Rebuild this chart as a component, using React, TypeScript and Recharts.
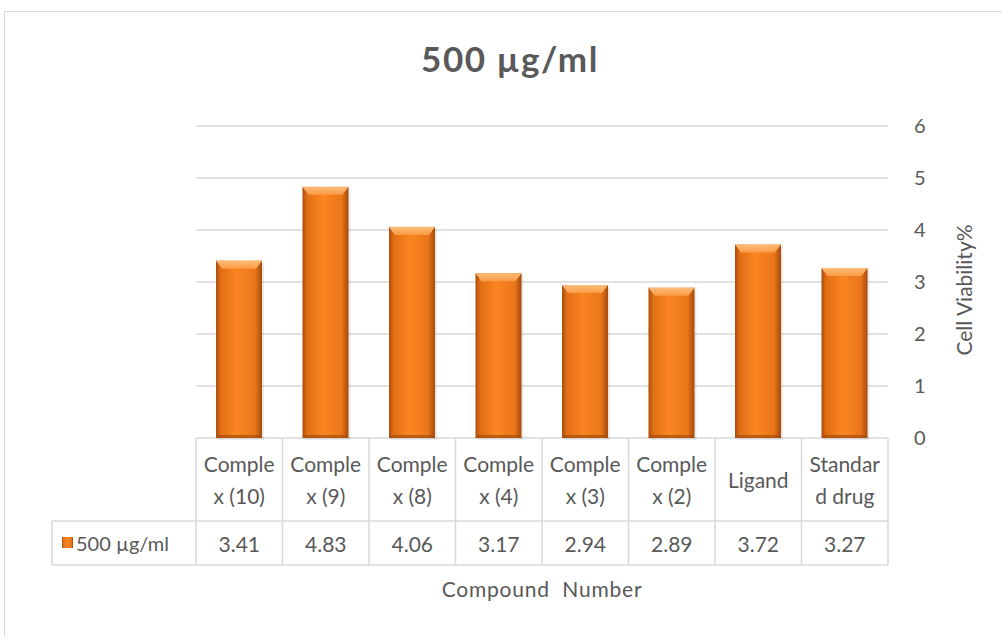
import React from 'react';
import { BarChart, Bar, XAxis, YAxis, CartesianGrid } from 'recharts';

const categories = ['Complex (10)', 'Complex (9)', 'Complex (8)', 'Complex (4)', 'Complex (3)', 'Complex (2)', 'Ligand', 'Standard drug'];
const labelLines = [
  ['Comple', 'x (10)'],
  ['Comple', 'x (9)'],
  ['Comple', 'x (8)'],
  ['Comple', 'x (4)'],
  ['Comple', 'x (3)'],
  ['Comple', 'x (2)'],
  ['Ligand'],
  ['Standar', 'd drug'],
];
const viability = [3.41, 4.83, 4.06, 3.17, 2.94, 2.89, 3.72, 3.27];
const yTicks = [0, 1, 2, 3, 4, 5, 6];
const seriesName = '500 µg/ml';

const data = categories.map((name, i) => ({ name, value: viability[i], lines: labelLines[i] }));

const FONT = "Lato, 'Open Sans', sans-serif";
const TEXT = '#595959';
const GRID = '#d9d9d9';

// bevelled orange bar, like Excel's preset
const BevelBar = (props: any) => {
  const { x, y, width, height } = props;
  if (!height || height <= 0) return null;
  const b = Math.min(8, height / 2);
  return (
    <g>
      <rect x={x + 2} y={y + 2} width={width} height={height} fill="#000" opacity={0.08} />
      <rect x={x} y={y} width={width} height={height} fill="url(#barH)" />
      <polygon points={`${x},${y} ${x + width},${y} ${x + width - 6},${y + b} ${x + 6},${y + b}`} fill="url(#barTop)" />
      <polygon points={`${x},${y + height} ${x + width},${y + height} ${x + width - 3},${y + height - 3} ${x + 3},${y + height - 3}`} fill="#9c4509" opacity={0.6} />
    </g>
  );
};

// data table under the plot: category row + value row
const TableTick = (props: any) => {
  const { x, y, index, width, visibleTicksCount } = props;
  const band = width && visibleTicksCount ? width / visibleTicksCount : 86.5;
  const left = x - band / 2;
  const right = x + band / 2;
  const rowH = 83;
  const valH = 44;
  const lines: string[] = data[index]?.lines ?? [];
  const last = index === (visibleTicksCount ?? categories.length) - 1;
  return (
    <g fontFamily={FONT}>
      <line x1={left} y1={y} x2={left} y2={y + rowH + valH} stroke={GRID} strokeWidth={1.5} />
      {last && <line x1={right} y1={y} x2={right} y2={y + rowH + valH} stroke={GRID} strokeWidth={1.5} />}
      <line x1={left} y1={y + rowH} x2={right} y2={y + rowH} stroke={GRID} strokeWidth={1.5} />
      <line x1={left} y1={y + rowH + valH} x2={right} y2={y + rowH + valH} stroke={GRID} strokeWidth={1.5} />
      {lines.map((t, i) => (
        <text
          key={i}
          x={x}
          y={y + rowH / 2 + (i - (lines.length - 1) / 2) * 32}
          textAnchor="middle"
          dominantBaseline="central"
          fontSize={21}
          fill={TEXT}
        >
          {t}
        </text>
      ))}
      <text x={x} y={y + rowH + valH / 2} textAnchor="middle" dominantBaseline="central" fontSize={21} fill={TEXT}>
        {viability[index]?.toFixed(2)}
      </text>
      {index === 0 && (
        <g>
          <line x1={left - 144} y1={y + rowH} x2={left} y2={y + rowH} stroke={GRID} strokeWidth={1.5} />
          <line x1={left - 144} y1={y + rowH + valH} x2={left} y2={y + rowH + valH} stroke={GRID} strokeWidth={1.5} />
          <line x1={left - 144} y1={y + rowH} x2={left - 144} y2={y + rowH + valH} stroke={GRID} strokeWidth={1.5} />
          <rect x={left - 134} y={y + rowH + valH / 2 - 6} width={11} height={11} fill="url(#barH)" />
          <text x={left - 120} y={y + rowH + valH / 2} dominantBaseline="central" fontSize={20} fill={TEXT}>
            {seriesName}
          </text>
        </g>
      )}
    </g>
  );
};

export default function App() {
  return (
    <div style={{ position: 'absolute', left: 0, top: 0, width: 1002, height: 637, overflow: 'hidden', background: '#fff' }}>
      <div style={{ position: 'absolute', left: 4, top: 11, width: 1100, height: 700, border: '1.5px solid #d9d9d9' }} />
      <div
        style={{
          position: 'absolute',
          left: 0,
          width: 1020,
          top: 37,
          textAlign: 'center',
          fontFamily: FONT,
          fontWeight: 700,
          fontSize: 35,
          letterSpacing: 1.5,
          color: TEXT,
        }}
      >
        500 µg/ml
      </div>
      <div style={{ position: 'absolute', left: 0, top: 0 }}>
        <BarChart width={1002} height={637} data={data} margin={{ top: 126, right: 0, left: 196, bottom: 39 }} barSize={46}>
          <defs>
            <linearGradient id="barH" x1="0" y1="0" x2="1" y2="0">
              <stop offset="0%" stopColor="#a94c0c" />
              <stop offset="10%" stopColor="#e06e15" />
              <stop offset="45%" stopColor="#fb8522" />
              <stop offset="85%" stopColor="#e9761a" />
              <stop offset="100%" stopColor="#a64a0b" />
            </linearGradient>
            <linearGradient id="barTop" x1="0" y1="0" x2="0" y2="1">
              <stop offset="0%" stopColor="#fdbd7a" />
              <stop offset="100%" stopColor="#fb9a45" />
            </linearGradient>
          </defs>
          <CartesianGrid vertical={false} stroke={GRID} strokeWidth={1.5} />
          <XAxis
            dataKey="name"
            interval={0}
            height={160}
            tickSize={0}
            tickMargin={0}
            tickLine={false}
            axisLine={false}
            tick={<TableTick />}
            label={{
              content: (p: any) => {
                const vb = p.viewBox || { x: 196, y: 438, width: 692 };
                return (
                  <text
                    x={vb.x + vb.width / 2}
                    y={vb.y + 150}
                    textAnchor="middle"
                    dominantBaseline="central"
                    fontFamily={FONT}
                    fontSize={21}
                    letterSpacing={0.8}
                    fill={TEXT}
                    style={{ whiteSpace: 'pre' }}
                  >
                    {'Compound  Number'}
                  </text>
                );
              },
            }}
          />
          <YAxis
            orientation="right"
            width={114}
            domain={[0, 6]}
            ticks={yTicks}
            tickLine={false}
            axisLine={false}
            tickMargin={20}
            tick={{ fill: TEXT, fontSize: 20, fontFamily: FONT }}
            label={{
              content: (p: any) => {
                const vb = p.viewBox || { x: 888, y: 126, height: 312 };
                const cx = vb.x + 75;
                const cy = vb.y + vb.height / 2 + 8;
                return (
                  <text
                    x={cx}
                    y={cy}
                    transform={`rotate(-90 ${cx} ${cy})`}
                    textAnchor="middle"
                    dominantBaseline="central"
                    fontFamily={FONT}
                    fontSize={21}
                    fill={TEXT}
                  >
                    Cell Viability%
                  </text>
                );
              },
            }}
          />
          <Bar dataKey="value" name={seriesName} shape={<BevelBar />} isAnimationActive={false} />
        </BarChart>
      </div>
    </div>
  );
}
